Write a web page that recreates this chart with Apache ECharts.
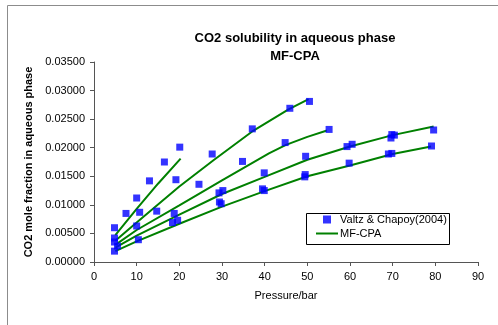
<!DOCTYPE html>
<html>
<head>
<meta charset="utf-8">
<script src="https://cdn.jsdelivr.net/npm/echarts@6.0.0/dist/echarts.min.js"></script>
<style>
  html, body { margin: 0; padding: 0; background: #fff; }
  #chart { width: 498px; height: 325px; }
</style>
</head>
<body>
<div id="chart"></div>
<script>
// measured points, one pair of arrays per isotherm
const expP1 = [4.8, 7.5, 10.0, 13.0, 16.5, 20.1];
const expX1 = [0.0060, 0.0085, 0.0112, 0.0142, 0.0175, 0.0201];
const expP2 = [4.8, 10.7, 19.2, 27.7, 37.1, 45.9, 50.5];
const expX2 = [0.0042, 0.0087, 0.0144, 0.0189, 0.0233, 0.0269, 0.0281];
const expP3 = [4.8, 10.0, 14.7, 24.6, 34.8, 44.8, 55.1];
const expX3 = [0.0035, 0.0063, 0.0089, 0.0136, 0.0176, 0.0209, 0.0232];
const expP4 = [5.5, 18.8, 29.3, 30.2, 39.9, 49.6, 59.3, 60.5, 69.6, 69.8, 70.4, 79.6];
const expX4 = [0.0028, 0.0085, 0.0121, 0.0125, 0.0156, 0.0185, 0.0202, 0.0206, 0.0217, 0.0223, 0.0222, 0.0231];
const expP5 = [4.8, 10.4, 18.4, 19.6, 29.4, 29.8, 39.5, 39.9, 49.4, 49.5, 59.8, 69.0, 69.8, 79.1];
const expX5 = [0.0019, 0.0039, 0.0069, 0.0073, 0.0105, 0.0102, 0.0128, 0.0125, 0.0149, 0.0153, 0.0173, 0.0189, 0.0190, 0.0203];

// MF-CPA model curves
const modP1 = [5, 10, 15, 20.3];
const modX1 = [0.0047, 0.0093, 0.0137, 0.0181];
const modP2 = [5, 10, 20, 28, 37, 45.6, 50.3];
const modX2 = [0.0037, 0.0069, 0.0132, 0.0178, 0.0228, 0.0267, 0.0285];
const modP3 = [5, 10, 20, 30, 41, 45, 50, 54.6];
const modX3 = [0.0030, 0.0056, 0.0099, 0.0143, 0.0190, 0.0205, 0.0219, 0.0230];
const modP4 = [5, 10, 20, 30, 40, 50, 60, 70, 79.6];
const modX4 = [0.0025, 0.0046, 0.0083, 0.0119, 0.0149, 0.0179, 0.0202, 0.0222, 0.0237];
const modP5 = [5, 10, 20, 30, 40, 50, 60, 70, 79];
const modX5 = [0.0019, 0.0036, 0.0067, 0.0097, 0.0124, 0.0150, 0.0169, 0.0189, 0.0202];

const xTicks = { min: 0, max: 90, step: 10 };
const yTicks = { min: 0, max: 0.035, step: 0.005 };

const expName = 'Valtz & Chapoy(2004)';
const modName = 'MF-CPA';

function pairs(xs, ys) {
  return xs.map((x, i) => [x, ys[i]]);
}

const expSets = [[expP1, expX1], [expP2, expX2], [expP3, expX3], [expP4, expX4], [expP5, expX5]];
const modSets = [[modP1, modX1], [modP2, modX2], [modP3, modX3], [modP4, modX4], [modP5, modX5]];

let series = [];
modSets.forEach(s => {
  series.push({
    name: modName,
    type: 'line',
    data: pairs(s[0], s[1]),
    symbol: 'none',
    lineStyle: { color: '#008000', width: 2 },
    itemStyle: { color: '#008000' },
    z: 2
  });
});
expSets.forEach(s => {
  series.push({
    name: expName,
    type: 'scatter',
    data: pairs(s[0], s[1]),
    symbol: 'rect',
    symbolSize: 7,
    itemStyle: { color: '#0000ff' },
    z: 3
  });
});

let myChart = echarts.init(document.getElementById('chart'));
let option = {
  animation: false,
  textStyle: { fontFamily: 'Liberation Sans, Arial, sans-serif' },
  title: {
    text: 'CO2 solubility in aqueous phase\nMF-CPA',
    left: 295,
    top: 29,
    padding: 0,
    textAlign: 'center',
    textStyle: { fontSize: 13, fontWeight: 'bold', color: '#000', lineHeight: 18 }
  },
  graphic: [
    {
      type: 'rect',
      shape: { x: 7.5, y: 5.5, width: 600, height: 400 },
      style: { fill: 'none', stroke: '#8c8c8c', lineWidth: 1 },
      silent: true, z: 0
    },
    {
      type: 'rect',
      shape: { x: 306.5, y: 213.5, width: 143, height: 31 },
      style: { fill: '#fff', stroke: '#000', lineWidth: 1 },
      silent: true, z: 1
    }
  ],
  legend: [
    {
      data: [expName],
      left: 323, top: 214, padding: 0,
      icon: 'rect', itemWidth: 8, itemHeight: 8,
      itemStyle: { color: '#0000ff' },
      textStyle: { fontSize: 11, color: '#000', padding: [0, 0, 0, 4] },
      selectedMode: false
    },
    {
      data: [modName],
      left: 316, top: 228, padding: 0,
      icon: 'rect', itemWidth: 22, itemHeight: 2,
      itemStyle: { color: '#008000' },
      textStyle: { fontSize: 11, color: '#000', padding: [0, 0, 0, -3] },
      selectedMode: false
    }
  ],
  grid: { left: 94, right: 20, top: 62, bottom: 63 },
  xAxis: {
    type: 'value',
    min: xTicks.min, max: xTicks.max, interval: xTicks.step,
    name: 'Pressure/bar',
    nameLocation: 'middle',
    nameGap: 28,
    nameTextStyle: { fontSize: 11, color: '#000' },
    axisLine: { lineStyle: { color: '#555' } },
    axisTick: { show: true, length: 4, lineStyle: { color: '#555' } },
    axisLabel: { fontSize: 11, color: '#000', margin: 9 },
    splitLine: { show: false }
  },
  yAxis: {
    type: 'value',
    min: yTicks.min, max: yTicks.max, interval: yTicks.step,
    name: 'CO2 mole fraction in aqueous phase',
    nameLocation: 'middle',
    nameGap: 53,
    nameTextStyle: { fontSize: 11, fontWeight: 'bold', color: '#000' },
    axisLine: { show: true, lineStyle: { color: '#555' } },
    axisTick: { show: true, length: 4, lineStyle: { color: '#555' } },
    axisLabel: { fontSize: 11, color: '#000', margin: 9, formatter: v => v.toFixed(5) },
    splitLine: { show: false }
  },
  series: series
};
myChart.setOption(option);
</script>
</body>
</html>
